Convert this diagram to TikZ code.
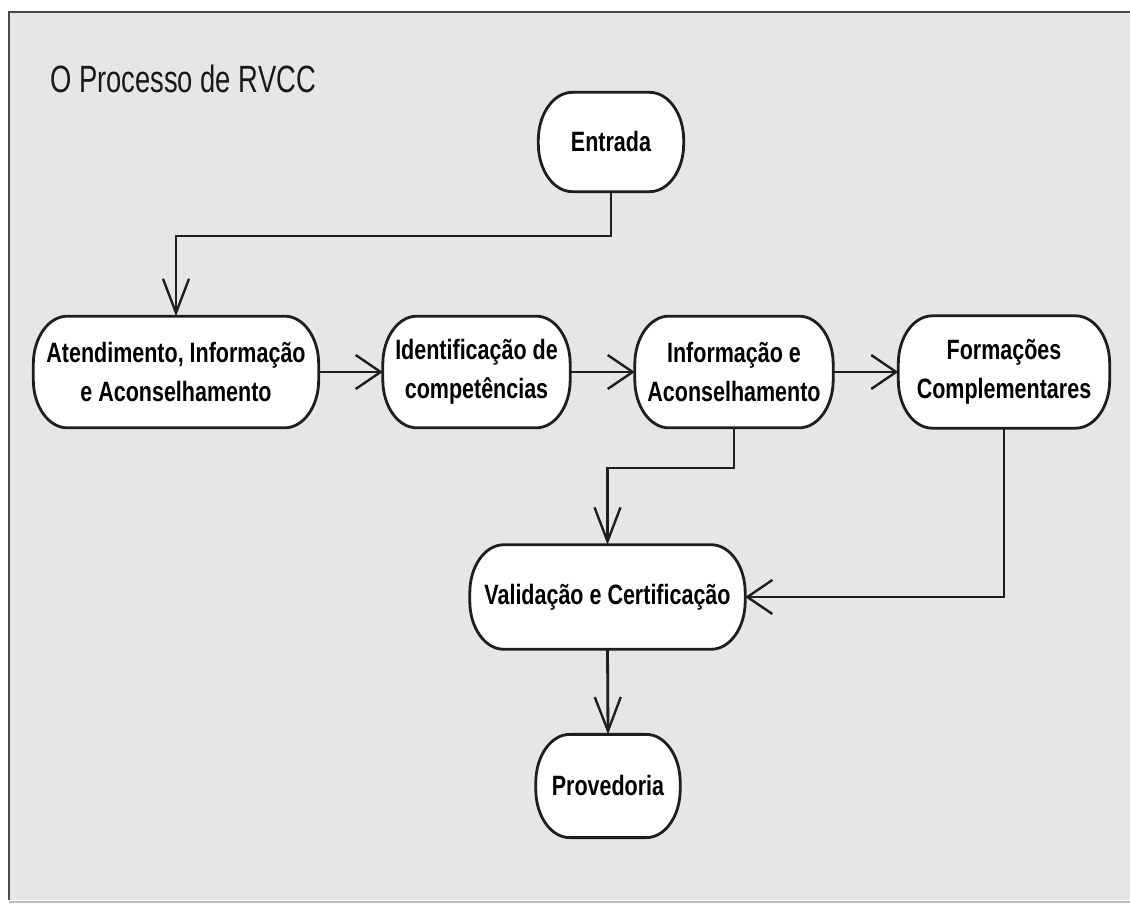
\documentclass[tikz,border=0pt]{standalone}
\usepackage{fontspec}
\setmainfont{Liberation Sans}
\newfontfamily\titlefont[FakeStretch=0.72]{Liberation Sans}
\usetikzlibrary{arrows.meta}
\definecolor{panel}{HTML}{E6E6E6}
\definecolor{ink}{HTML}{1E1E1E}
\pgfdeclarelayer{panellayer}
\pgfdeclarelayer{boxlayer}
\pgfsetlayers{panellayer,boxlayer,main}

\begin{document}
\begin{tikzpicture}[x=1pt,y=-1pt,
  % activity labels are set tall: the node is stretched vertically
  activity/.style={yscale=1.3, transform shape, inner sep=0pt, align=center,
    font=\bfseries\fontsize{21.5}{30}\selectfont},
  % outline of an activity: rectangle with elliptic corners
  boxline/.style={draw=ink, line width=2.8pt, fill=white, line join=round},
  flow/.style={draw=ink, line width=2.8pt},
  down/.style={flow, -{Straight Barb[length=34pt,width=26pt,line width=2.4pt]}},
  side/.style={flow, -{Straight Barb[length=25pt,width=34pt,line width=2.4pt]}},
]
\useasboundingbox (0,0) rectangle (1130,904);

% panel with its frame
\begin{pgfonlayer}{panellayer}
\fill[white] (0,0) rectangle (1130,904);
\fill[panel] (9,12) rectangle (1130,900);
\draw[black!70, line width=2.8pt] (9,900) -- (9,12) -- (1130,12);
\draw[black!25, line width=1.5pt] (9,902) -- (1130,902);
\end{pgfonlayer}

% title
\node[font=\titlefont\fontsize{38}{40}\selectfont, anchor=base west, inner sep=0pt, text=black!90]
  (title) at (50,93) {O Processo de RVCC};

% activities (minimum height is in the node's own, stretched units)
\node[activity, minimum width=145pt, minimum height=76pt] (entrada) at (611,142) {Entrada};
\node[activity, minimum width=285pt, minimum height=85.5pt] (atend) at (176,372)
  {Atendimento, Informação\\e Aconselhamento};
\node[activity, minimum width=187pt, minimum height=85.5pt] (ident) at (476.5,372)
  {Identificação de\\competências};
\node[activity, minimum width=198pt, minimum height=85.5pt] (info) at (734,372)
  {Informação e\\Aconselhamento};
\node[activity, minimum width=211pt, minimum height=86pt] (form) at (1004,372)
  {Formações\\Complementares};
\node[activity, minimum width=275pt, minimum height=80pt] (valid) at (607.5,597)
  {Validação e Certificação};
\node[activity, minimum width=144pt, minimum height=79pt] (prov) at (608,786) {Provedoria};

% outlines behind the labels
\begin{pgfonlayer}{boxlayer}
\foreach \n in {entrada,atend,ident,info,form,valid,prov}{
  \draw[boxline] ([xshift=34pt]\n.north west) -- ([xshift=-34pt]\n.north east)
    .. controls +(18.8pt,0pt) and +(0pt,26.5pt) .. ([yshift=-48pt]\n.north east)
    -- ([yshift=48pt]\n.south east)
    .. controls +(0pt,-26.5pt) and +(18.8pt,0pt) .. ([xshift=-34pt]\n.south east)
    -- ([xshift=34pt]\n.south west)
    .. controls +(-18.8pt,0pt) and +(0pt,-26.5pt) .. ([yshift=48pt]\n.south west)
    -- ([yshift=-48pt]\n.north west)
    .. controls +(0pt,26.5pt) and +(-18.8pt,0pt) .. ([xshift=34pt]\n.north west)
    -- cycle;
}
\end{pgfonlayer}

% bend heights of the elbow connectors
\coordinate (j1) at (0,236);
\coordinate (j2) at (0,468);

% flow
\draw[down] (entrada.south) -- (entrada.south |- j1) -| (atend.north);
\draw[side] (atend.east) -- (ident.west);
\draw[side] (ident.east) -- (info.west);
\draw[side] (info.east) -- (form.west);
\draw[down] (info.south) -- (info.south |- j2) -| (valid.north);
\draw[side] (form.south) |- (valid.east);
\draw[down] (valid.south) -- (prov.north);
\end{tikzpicture}
\end{document}
